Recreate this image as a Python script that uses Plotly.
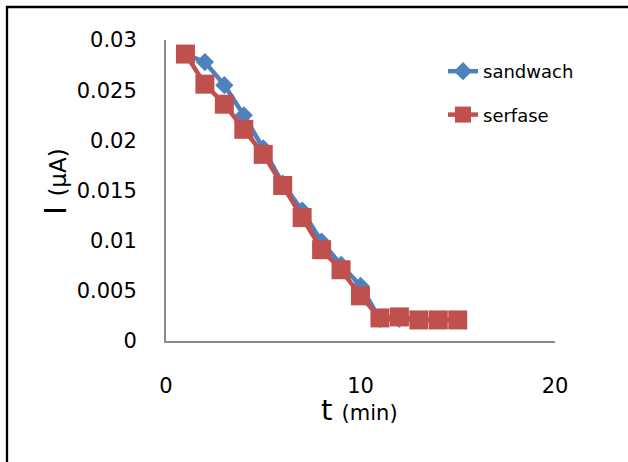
import plotly.graph_objects as go

t_min = [1, 2, 3, 4, 5, 6, 7, 8, 9, 10, 11, 12, 13, 14, 15]
sandwach = [0.0286, 0.0278, 0.0255, 0.0225, 0.0192, 0.0157, 0.0130, 0.0099,
            0.0076, 0.0055, 0.0022, 0.0022, 0.0021, 0.0021, 0.0021]
serfase = [0.0286, 0.0256, 0.0236, 0.0211, 0.0186, 0.0155, 0.0123, 0.0091,
           0.0071, 0.0045, 0.0023, 0.0024, 0.0021, 0.0021, 0.0021]

W, H = 628, 462
L, R, T, B = 166, 73, 40, 121
pw, ph = W - L - R, H - T - B

def px(x):
    return (x - L) / pw

def py(y):
    return (H - B - y) / ph

FONT = "DejaVu Sans"
BLUE = "#4F81BD"
RED = "#C0504D"

fig = go.Figure()
fig.add_trace(go.Scatter(
    x=t_min, y=sandwach, name="sandwach", mode="lines+markers",
    line=dict(color=BLUE, width=4.5),
    marker=dict(symbol="diamond", size=14, color=BLUE),
    legendgroup="a",
))
fig.add_trace(go.Scatter(
    x=t_min, y=serfase, name="serfase", mode="lines+markers",
    line=dict(color=RED, width=4.5),
    marker=dict(symbol="square", size=19, color=RED),
    legendgroup="b",
))

fig.update_layout(
    width=W, height=H,
    margin=dict(l=L, r=R, t=T, b=B, pad=0),
    paper_bgcolor="white", plot_bgcolor="white",
    font=dict(family=FONT, size=20, color="black"),
    showlegend=True,
    legend=dict(
        x=px(443), y=py(53), xanchor="left", yanchor="top",
        font=dict(family=FONT, size=18, color="black"),
        tracegroupgap=17, bgcolor="rgba(0,0,0,0)",
        itemsizing="trace",
    ),
    xaxis=dict(
        range=[0, 20], dtick=10, tick0=0, showgrid=False, zeroline=False,
        showline=True, linecolor="#8C8C8C", linewidth=2,
        ticks="", ticklabelstandoff=25,
        tickfont=dict(family=FONT, size=21, color="black"),
    ),
    yaxis=dict(
        range=[0, 0.03], dtick=0.005, tick0=0, showgrid=False, zeroline=False,
        showline=True, linecolor="#8C8C8C", linewidth=2,
        ticks="", ticklabelstandoff=23,
        tickfont=dict(family=FONT, size=21, color="black"),
    ),
    shapes=[dict(
        type="rect", xref="paper", yref="paper",
        x0=px(7), x1=px(660), y0=py(500), y1=py(7),
        line=dict(color="black", width=2.3), fillcolor="rgba(0,0,0,0)",
        layer="above",
    )],
    annotations=[
        dict(
            text="I <span style='font-size:23px'>(μA)</span>",
            xref="paper", yref="paper", x=px(55), y=py(182),
            xanchor="center", yanchor="middle", textangle=-90,
            showarrow=False, font=dict(family=FONT, size=30, color="black"),
        ),
        dict(
            text="t <span style='font-size:21px'>(min)</span>",
            xref="paper", yref="paper", x=px(359), y=py(410),
            xanchor="center", yanchor="middle",
            showarrow=False, font=dict(family=FONT, size=29, color="black"),
        ),
    ],
)

fig.write_html("out.html")
